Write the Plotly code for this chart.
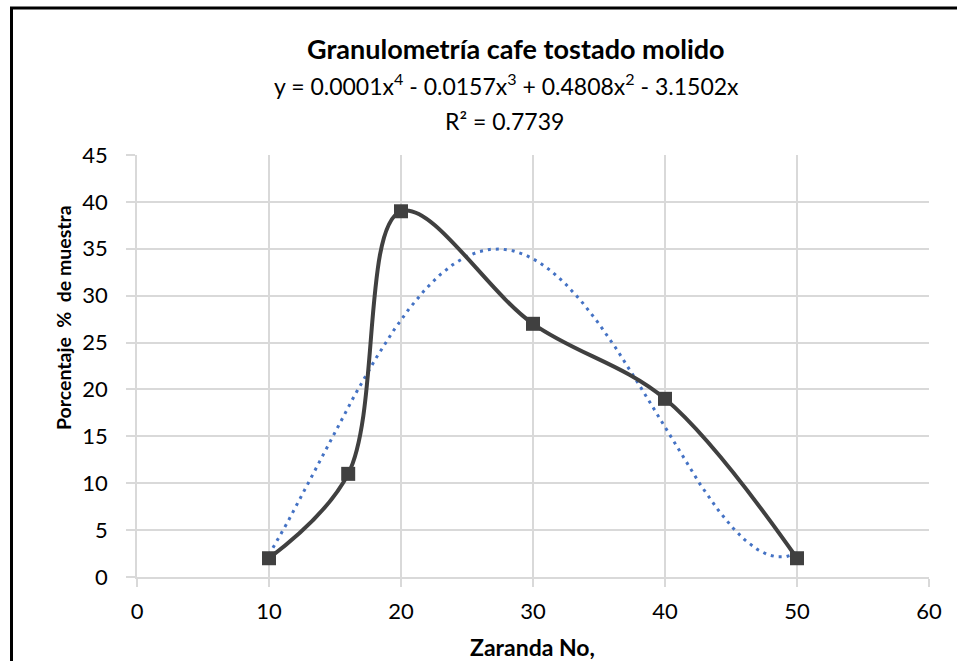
import numpy as np
import plotly.graph_objects as go

# ---- data ----
zaranda = [10, 16, 20, 30, 40, 50]
porcentaje = [2, 11, 39, 27, 19, 2]
x_ticks = [0, 10, 20, 30, 40, 50, 60]
y_ticks = [0, 5, 10, 15, 20, 25, 30, 35, 40, 45]

title_text = "<b>Granulometría cafe tostado molido</b>"
eq_text = "y = 0.0001x<sup>4</sup> - 0.0157x<sup>3</sup> + 0.4808x<sup>2</sup> - 3.1502x"
r2_text = "R² = 0.7739"
x_title = "<b>Zaranda No,</b>"
y_title = "<b>Porcentaje\u00a0 %\u00a0 de muestra</b>"

# ---- polynomial trendline (order 4, intercept = 0), least squares like Excel ----
xa = np.array(zaranda, dtype=float)
ya = np.array(porcentaje, dtype=float)
A = np.vstack([xa**4, xa**3, xa**2, xa]).T
coef, *_ = np.linalg.lstsq(A, ya, rcond=None)
xt = np.linspace(min(zaranda), max(zaranda), 300)
yt = coef[0]*xt**4 + coef[1]*xt**3 + coef[2]*xt**2 + coef[3]*xt

# ---- layout geometry (pixels) ----
W, H = 957, 661
L, R, T, B = 137, 28, 155, 84
PW, PH = W - L - R, H - T - B


def px(x):
    return (x - L) / PW


def py(y):
    return (H - B - y) / PH


FONT = "Lato, 'Open Sans', sans-serif"
GRID = "#d9d9d9"

fig = go.Figure()
fig.add_trace(go.Scatter(
    x=xt, y=yt, mode="lines",
    line=dict(color="#4472C4", width=3, dash="3px,5px"),
    showlegend=False, hoverinfo="skip"))
fig.add_trace(go.Scatter(
    x=zaranda, y=porcentaje, mode="lines+markers",
    line=dict(color="#404040", width=4, shape="spline", smoothing=1.0),
    marker=dict(symbol="square", size=14, color="#404040"),
    showlegend=False))

fig.update_layout(
    width=W, height=H,
    margin=dict(l=L, r=R, t=T, b=B, pad=0),
    paper_bgcolor="white", plot_bgcolor="white",
    font=dict(family=FONT, color="black", size=22),
    xaxis=dict(range=[0, 60], tickvals=x_ticks, showgrid=True, gridcolor=GRID, gridwidth=1.5,
               showline=True, linecolor=GRID, linewidth=1.5, ticks="outside", ticklen=8,
               tickcolor=GRID, tickwidth=1.5, zeroline=False, ticklabelstandoff=6,
               tickfont=dict(size=22, family=FONT, color="black")),
    yaxis=dict(range=[0, 45], tickvals=y_ticks, showgrid=True, gridcolor=GRID, gridwidth=1.5,
               showline=True, linecolor=GRID, linewidth=1.5, ticks="outside", ticklen=9,
               tickcolor=GRID, tickwidth=1.5, zeroline=False, ticklabelstandoff=14,
               tickfont=dict(size=22, family=FONT, color="black")),
    shapes=[dict(type="rect", xref="paper", yref="paper",
                 x0=px(11.5), x1=px(1100), y0=py(800), y1=py(8),
                 line=dict(color="black", width=3), fillcolor="rgba(0,0,0,0)", layer="above")],
    annotations=[
        dict(text=title_text, xref="paper", yref="paper", x=px(516), y=py(48),
             xanchor="center", yanchor="middle", showarrow=False,
             font=dict(size=27, family=FONT, color="black")),
        dict(text=eq_text, xref="paper", yref="paper", x=px(506), y=py(84),
             xanchor="center", yanchor="middle", showarrow=False,
             font=dict(size=23, family=FONT, color="black")),
        dict(text=r2_text, xref="paper", yref="paper", x=px(504), y=py(121),
             xanchor="center", yanchor="middle", showarrow=False,
             font=dict(size=23, family=FONT, color="black")),
        dict(text=x_title, xref="paper", yref="paper", x=px(532), y=py(647),
             xanchor="center", yanchor="middle", showarrow=False,
             font=dict(size=23, family=FONT, color="black")),
        dict(text=y_title, xref="paper", yref="paper",
             x=px(63), y=py(318), xanchor="center", yanchor="middle", textangle=-90,
             showarrow=False, font=dict(size=19.5, family=FONT, color="black")),
    ],
)

fig.write_html("out.html", config={"displayModeBar": False},
               post_script="document.body.style.margin='0px';document.body.style.overflow='hidden';")
